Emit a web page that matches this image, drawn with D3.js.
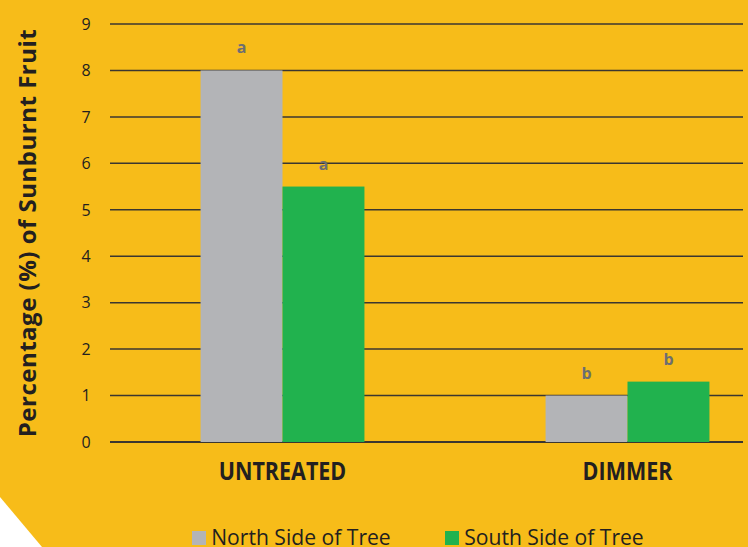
<!doctype html>
<html>
<head>
	<meta charset="UTF-8">
	<title>Sunburnt Fruit</title>
	<script src="https://d3js.org/d3.v7.min.js"></script>
	<style>
		body { margin: 0; background: #fff; }
		svg { display: block; }
	</style>
</head>
<body>
	<script>
		// data
		var categories = ["UNTREATED", "DIMMER"];
		var series = ["North Side of Tree", "South Side of Tree"];
		var northValues = [8, 1];
		var southValues = [5.5, 1.3];
		var northLetters = ["a", "b"];
		var southLetters = ["a", "b"];
		var yTicks = [0, 1, 2, 3, 4, 5, 6, 7, 8, 9];

		var W = 748, H = 547;
		var colours = ["#b3b4b7", "#21b24e"];

		var svg = d3.select("body").append("svg")
			.attr("width", W)
			.attr("height", H);

		// orange background with the white cut corner
		svg.append("rect")
			.attr("width", W).attr("height", H)
			.attr("fill", "#f7bc19");
		svg.append("path")
			.attr("d", "M0,497 L42," + H + " L0," + H + " Z")
			.attr("fill", "#ffffff");

		// scales
		var x = d3.scaleBand()
			.domain(categories)
			.range([110, 800])
			.paddingInner(0.525)
			.paddingOuter(0.2625);
		var xs = d3.scaleBand()
			.domain(series)
			.range([0, x.bandwidth()]);
		var y = d3.scaleLinear()
			.domain([0, 9])
			.range([442, 24]);

		// gridlines
		svg.append("g")
			.selectAll("line")
			.data(yTicks)
			.join("line")
				.attr("x1", 110)
				.attr("x2", 743)
				.attr("y1", function(d) { return y(d); })
				.attr("y2", function(d) { return y(d); })
				.attr("stroke", "#3b3630")
				.attr("stroke-width", function(d) { return d === 0 ? 2 : 1.5; });

		// y tick labels
		svg.append("g")
			.selectAll("text")
			.data(yTicks)
			.join("text")
				.attr("x", 86)
				.attr("y", function(d) { return y(d); })
				.attr("dy", "0.36em")
				.attr("text-anchor", "middle")
				.attr("font-family", "Open Sans")
				.attr("font-size", 16)
				.attr("fill", "#231f20")
				.text(function(d) { return d; });

		// bars
		var rows = categories.map(function(c, i) {
			return [
				{cat: c, s: series[0], v: northValues[i], l: northLetters[i], col: colours[0]},
				{cat: c, s: series[1], v: southValues[i], l: southLetters[i], col: colours[1]}
			];
		});
		var flat = d3.merge(rows);

		svg.append("g")
			.selectAll("rect")
			.data(flat)
			.join("rect")
				.attr("x", function(d) { return x(d.cat) + xs(d.s); })
				.attr("width", xs.bandwidth())
				.attr("y", function(d) { return y(d.v); })
				.attr("height", function(d) { return y(0) - y(d.v); })
				.attr("fill", function(d) { return d.col; });

		// significance letters
		svg.append("g")
			.selectAll("text")
			.data(flat)
			.join("text")
				.attr("x", function(d) { return x(d.cat) + xs(d.s) + xs.bandwidth() / 2; })
				.attr("y", function(d) { return y(d.v) - 17; })
				.attr("text-anchor", "middle")
				.attr("font-family", "Open Sans")
				.attr("font-weight", "bold")
				.attr("font-size", 16)
				.attr("fill", "#6d6e71")
				.text(function(d) { return d.l; });

		// category labels
		svg.append("g")
			.selectAll("text")
			.data(categories)
			.join("text")
				.attr("x", function(d) { return x(d) + x.bandwidth() / 2; })
				.attr("y", 480)
				.attr("text-anchor", "middle")
				.attr("font-family", "Open Sans")
				.attr("font-weight", "bold")
				.attr("font-size", 25)
				.attr("transform", function(d) {
					var cx = x(d) + x.bandwidth() / 2;
					return "translate(" + cx + ",0) scale(0.86,1) translate(" + (-cx) + ",0)";
				})
				.attr("fill", "#231f20")
				.text(function(d) { return d; });

		// y axis title
		svg.append("text")
			.attr("transform", "translate(36,233) rotate(-90)")
			.attr("text-anchor", "middle")
			.attr("font-family", "Open Sans")
			.attr("font-weight", "bold")
			.attr("font-size", 24)
			.attr("letter-spacing", 0.5)
			.attr("fill", "#231f20")
			.text("Percentage (%) of Sunburnt Fruit");

		// legend
		var legX = [192, 445];
		var legend = svg.append("g")
			.selectAll("g")
			.data(series)
			.join("g")
				.attr("transform", function(d, i) { return "translate(" + legX[i] + ",531)"; });
		legend.append("rect")
			.attr("width", 14).attr("height", 14)
			.attr("fill", function(d, i) { return colours[i]; });
		legend.append("text")
			.attr("x", 20)
			.attr("y", 14)
			.attr("font-family", "Open Sans")
			.attr("font-size", 22)
			.attr("transform", "scale(0.96,1)")
			.attr("fill", "#231f20")
			.text(function(d) { return d; });
	</script>
</body>
</html>
